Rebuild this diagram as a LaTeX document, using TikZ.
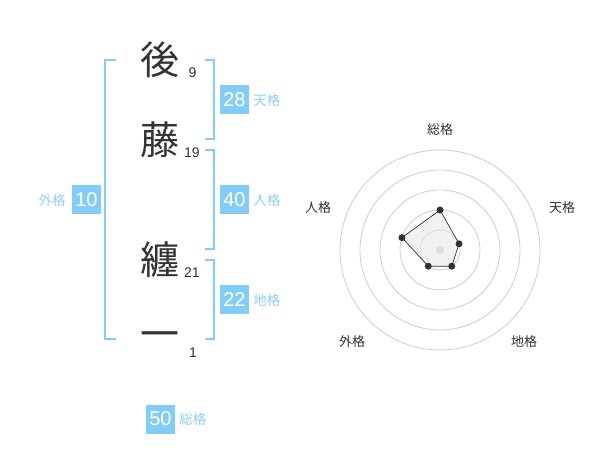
\documentclass[tikz,border=0pt]{standalone}
\usepackage{fontspec}
\setmainfont{Liberation Sans}
\newfontfamily\jp{Noto Sans CJK JP}
\usepackage{tikz}
\usetikzlibrary{positioning}

\definecolor{kakublue}{HTML}{84CCF8}
\definecolor{kakutext}{HTML}{8DD0F7}
\definecolor{sumi}{HTML}{333333}
\definecolor{wagray}{HTML}{CCCCCC}
\definecolor{menfill}{HTML}{E8E8E8}

\begin{document}
\begin{tikzpicture}[x=1pt, y=-1pt,
	moji/.style={text=sumi, inner sep=0pt, font=\jp\fontsize{39}{39}\selectfont},
	kazu/.style={text=sumi, inner sep=0pt, font=\fontsize{14}{14}\selectfont},
	kakko/.style={draw=kakublue, line width=2pt},
	hako/.style={fill=kakublue, text=white, minimum size=29pt, inner sep=0pt, font=\fontsize{20}{20}\selectfont},
	kaku/.style={text=kakutext, inner sep=0pt, font=\jp\fontsize{13.5}{13.5}\selectfont},
	radarlabel/.style={text=sumi, inner sep=0pt, font=\jp\fontsize{13}{13}\selectfont}]
	\useasboundingbox (0,0) rectangle (600,470);

	\node[moji] (c1) at (160,60) {後};
	\node[moji] (c2) at (160,140) {藤};
	\node[moji] (c3) at (160,260) {纏};
	\node[moji] (c4) at (160,340) {一};
	\node[kazu] (n1) at (192.5,72.5) {9};
	\node[kazu] (n2) at (192,152.5) {19};
	\node[kazu] (n3) at (192,272.5) {21};
	\node[kazu] (n4) at (193,352.5) {1};

	\draw[kakko] (116,60) -- (105,60) -- (105,339) -- (116,339);
	\draw[kakko] (205,60) -- (214,60) -- (214,139) -- (205,139);
	\draw[kakko] (205,150) -- (214,150) -- (214,249) -- (205,249);
	\draw[kakko] (205,260) -- (214,260) -- (214,339) -- (205,339);

	\node[hako] (ten) at (234.5,100) {28};
	\node[kaku, right=4pt of ten] (ten-l) {天格};
	\node[hako] (jin) at (234.5,200) {40};
	\node[kaku, right=4pt of jin] (jin-l) {人格};
	\node[hako] (chi) at (234.5,300) {22};
	\node[kaku, right=4pt of chi] (chi-l) {地格};
	\node[hako] (gai) at (86.5,200) {10};
	\node[kaku, left=6pt of gai] (gai-l) {外格};
	\node[hako] (sou) at (160.5,419) {50};
	\node[kaku, right=4pt of sou] (sou-l) {総格};

	\begin{scope}[shift={(440,250)}, y=1pt]
		\foreach \r in {20,40,60,80,100}
			\draw[wagray, line width=0.8pt] (0,0) circle (\r);
		\fill[wagray] (0,0) circle (4);
		\coordinate (p-sou) at (90:40);
		\coordinate (p-ten) at (18:20);
		\coordinate (p-chi) at (-54:20);
		\coordinate (p-gai) at (-126:20);
		\coordinate (p-jin) at (162:40);
		\draw[sumi, fill=menfill, fill opacity=0.6, line width=0.7pt] (p-sou) -- (p-ten) -- (p-chi) -- (p-gai) -- (p-jin) -- cycle;
		\foreach \p in {sou,ten,chi,gai,jin}
			\fill[sumi] (p-\p) circle (3.5);
		\node[radarlabel] (r-sou) at (0,120) {総格};
		\node[radarlabel] (r-ten) at (122,42) {天格};
		\node[radarlabel] (r-chi) at (84,-92) {地格};
		\node[radarlabel] (r-gai) at (-88,-92) {外格};
		\node[radarlabel] (r-jin) at (-122,42) {人格};
	\end{scope}
\end{tikzpicture}
\end{document}
